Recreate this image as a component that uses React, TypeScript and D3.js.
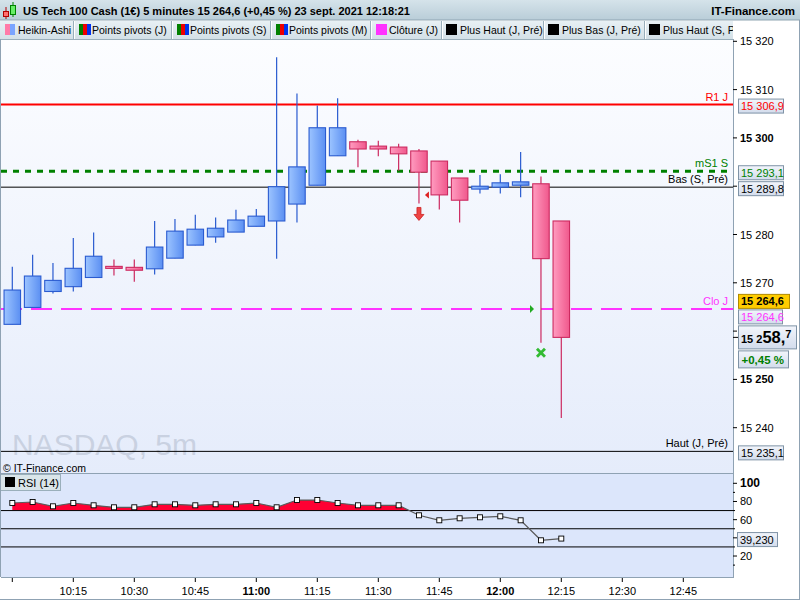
import * as d3 from "d3";
import React from "react";

// Heikin-Ashi candles, US Tech 100, 5 min, 23 sept. 2021
const times = [
  "10:00", "10:05", "10:10", "10:15", "10:20", "10:25", "10:30", "10:35", "10:40", "10:45",
  "10:50", "10:55", "11:00", "11:05", "11:10", "11:15", "11:20", "11:25", "11:30", "11:35",
  "11:40", "11:45", "11:50", "11:55", "12:00", "12:05", "12:10", "12:15",
];
const opens = [
  15261.4, 15264.9, 15268.2, 15269.2, 15271.1, 15273.4, 15273.2, 15272.9, 15275.1, 15277.8,
  15279.5, 15280.5, 15281.7, 15282.8, 15286.3, 15290.2, 15296.3, 15299.2, 15298.3, 15298.1,
  15297.3, 15295.2, 15291.7, 15289.4, 15289.8, 15290.2, 15290.5, 15282.8,
];
const highs = [
  15273.3, 15275.8, 15274.1, 15279.3, 15280.4, 15274.8, 15274.8, 15282.8, 15283.2, 15284.1,
  15283.5, 15285.1, 15285.3, 15316.7, 15309.2, 15306.7, 15308.2, 15299.6, 15299.4, 15298.8,
  15297.7, 15295.2, 15291.7, 15292.3, 15292.5, 15297.1, 15292.0, 15282.8,
];
const lows = [
  15261.4, 15264.9, 15267.8, 15268.2, 15271.1, 15271.5, 15270.2, 15271.7, 15275.1, 15277.8,
  15278.3, 15280.5, 15281.7, 15275.0, 15282.5, 15290.2, 15296.3, 15293.9, 15296.2, 15293.2,
  15286.4, 15285.2, 15282.5, 15288.5, 15288.5, 15287.7, 15257.6, 15242.0,
];
const closes = [
  15268.5, 15271.4, 15270.5, 15273.0, 15275.5, 15273.0, 15272.6, 15277.4, 15280.7, 15281.1,
  15281.3, 15283.0, 15283.8, 15289.9, 15294.0, 15302.1, 15302.1, 15297.7, 15297.7, 15296.7,
  15292.9, 15288.2, 15287.1, 15290.0, 15290.7, 15290.9, 15275.0, 15258.7,
];
const rsi = [
  78.3, 79.4, 74.7, 78.3, 75.8, 73.6, 73.6, 76.9, 76.9, 75.8,
  76.9, 76.9, 78.3, 73.6, 81.6, 81.6, 78.3, 75.8, 75.8, 75.8,
  64.8, 59.3, 61.5, 62.6, 63.7, 59.3, 37.3, 39.2,
];
const rsiLast = 39.23;

// reference lines
const levelNames = ["R1 J", "mS1 S", "Bas (S, Pré)", "Clo J", "Haut (J, Pré)"];
const levelValues = [15306.9, 15293.1, 15289.8, 15264.6, 15235.1];
const levelColors = ["#ff0000", "#008000", "#000000", "#ff33ff", "#000000"];

// 15290 and 15260 sit under the value boxes
const priceTicks = [15240, 15250, 15260, 15270, 15280, 15290, 15300, 15310, 15320];
const priceLabels = [15240, 15250, 15270, 15280, 15300, 15310, 15320];
const rsiLabels = [20, 60, 80, 100];
const rsiLevels = [30, 50, 70];
const timeTicks = ["10:00", "10:15", "10:30", "10:45", "11:00", "11:15", "11:30", "11:45", "12:00", "12:15", "12:30", "12:45"];

const legendItems = ["Heikin-Ashi", "Points pivots (J)", "Points pivots (S)", "Points pivots (M)", "Clôture (J)", "Plus Haut (J, Pré)", "Plus Bas (J, Pré)", "Plus Haut (S, Pré)"];
const legendStarts = [0, 74, 172, 271, 371, 442, 544, 645];

const FONT = "'Liberation Sans', Arial, sans-serif";

const toMin = (t: string) => {
  const [h, m] = t.split(":").map(Number);
  return (h - 10) * 60 + m;
};
const fmt = (v: number, d = 1) => {
  const s = v.toFixed(d);
  const [i, f] = s.split(".");
  const ii = i.replace(/\B(?=(\d{3})+(?!\d))/g, " ");
  return f ? `${ii},${f}` : ii;
};

function ValueBox({ x, yc, w, text, color = "#000", bold = false, fill = "url(#boxGrad)", stroke = "#7f93a6" }: any) {
  return (
    <g>
      <rect x={x} y={yc - 7} width={w} height={14} fill={fill} stroke={stroke} />
      <text x={x + 2.5} y={yc + 4} fontSize={11} fill={color} fontWeight={bold ? "bold" : "normal"} fontFamily={FONT}>
        {text}
      </text>
    </g>
  );
}

export default function App() {
  const W = 800;
  const H = 600;
  const plotL = 1;
  const plotR = 733;
  const mainTop = 40;
  const mainBot = 473;
  const rsiBot = 577;

  const x = d3.scaleLinear().domain([0, 165]).range([12.3, 683.3]);
  const y = d3.scaleLinear().domain([15240, 15320]).range([427.7, 41.3]);
  const yr = d3.scaleLinear().domain([0, 100]).range([574.2, 483.3]);

  const mins = times.map(toMin);
  const bw = 16.5;

  const rsiLine = d3.line<number>().x((_, i) => x(mins[i])).y((d) => yr(d));
  const rsiArea = d3.area<number>().x((_, i) => x(mins[i])).y0(yr(70)).y1((d) => yr(d));

  const last = closes[closes.length - 1];
  const cloJ = levelValues[3];
  const lastStr = fmt(last);

  return (
    <svg width={W} height={H} style={{ position: "absolute", left: 0, top: 0 }} fontFamily={FONT}>
      <defs>
        <linearGradient id="plotGrad" x1="0" y1="0" x2="0" y2="1">
          <stop offset="0" stopColor="#fcfdff" />
          <stop offset="1" stopColor="#e5ecfb" />
        </linearGradient>
        <linearGradient id="titleGrad" x1="0" y1="0" x2="0" y2="1">
          <stop offset="0" stopColor="#d5e3ea" />
          <stop offset="1" stopColor="#b9cdd8" />
        </linearGradient>
        <linearGradient id="legGrad" x1="0" y1="0" x2="0" y2="1">
          <stop offset="0" stopColor="#e8f0f4" />
          <stop offset="1" stopColor="#d3e0e7" />
        </linearGradient>
        <linearGradient id="boxGrad" x1="0" y1="0" x2="0" y2="1">
          <stop offset="0" stopColor="#f2f5fb" />
          <stop offset="1" stopColor="#d3dcec" />
        </linearGradient>
        <linearGradient id="upGrad" x1="0" y1="0" x2="1" y2="0">
          <stop offset="0" stopColor="#9cc4ff" />
          <stop offset="1" stopColor="#5b8ff2" />
        </linearGradient>
        <linearGradient id="downGrad" x1="0" y1="0" x2="1" y2="0">
          <stop offset="0" stopColor="#ff9cc0" />
          <stop offset="1" stopColor="#f0588c" />
        </linearGradient>
        <clipPath id="plotClip">
          <rect x={plotL} y={mainTop} width={plotR - plotL} height={mainBot - mainTop} />
        </clipPath>
        <clipPath id="rsiClip">
          <rect x={plotL} y={mainBot} width={plotR - plotL} height={yr(70) - mainBot} />
        </clipPath>
        <clipPath id="legClip">
          <rect x={0} y={20} width={plotR} height={20} />
        </clipPath>
      </defs>

      <rect x={0} y={0} width={W} height={H} fill="#ffffff" />

      {/* title bar */}
      <rect x={0} y={0} width={W} height={20} fill="url(#titleGrad)" />
      <line x1={0} x2={W} y1={20} y2={20} stroke="#8fa5b2" />
      <g>
        <line x1={6} x2={6} y1={7} y2={19} stroke="#b00000" />
        <rect x={3.5} y={11.5} width={5} height={5} fill="#ff7070" stroke="#b00000" />
        <line x1={13} x2={13} y1={2} y2={17} stroke="#008000" />
        <rect x={10.5} y={5.5} width={5} height={9} fill="#66ee66" stroke="#008000" />
      </g>
      <text x={23} y={15} fontSize={11} fontWeight="bold" fill="#000" textLength={387} lengthAdjust="spacingAndGlyphs">
        US Tech 100 Cash (1€) 5 minutes 15 264,6 (+0,45 %) 23 sept. 2021 12:18:21
      </text>
      <text x={795} y={15} fontSize={11.5} fontWeight="bold" fill="#000" textAnchor="end">
        IT-Finance.com
      </text>

      {/* legend bar */}
      <rect x={0} y={21} width={plotR} height={18} fill="url(#legGrad)" />
      <g clipPath="url(#legClip)">
        {legendItems.map((name, i) => {
          const sx = legendStarts[i];
          const ix = sx + 5;
          let icon;
          if (i === 0) {
            icon = (
              <g>
                <rect x={ix} y={24} width={5} height={11} fill="#ff7aa8" />
                <rect x={ix + 5} y={24} width={5} height={11} fill="#7aa4ff" />
              </g>
            );
          } else if (i <= 3) {
            icon = (
              <g>
                <rect x={ix} y={24} width={4} height={11} fill="#008000" />
                <rect x={ix + 4} y={24} width={4} height={11} fill="#ee0000" />
                <rect x={ix + 8} y={24} width={4} height={11} fill="#0033ee" />
              </g>
            );
          } else if (i === 4) {
            icon = <rect x={ix} y={24} width={11} height={11} fill="#ff33ff" />;
          } else {
            icon = <rect x={ix - 1} y={24} width={11} height={11} fill="#000" />;
          }
          return (
            <g key={name}>
              {i > 0 && <line x1={sx - 0.5} x2={sx - 0.5} y1={21} y2={39} stroke="#9aafbb" />}
              {i > 0 && <line x1={sx + 0.5} x2={sx + 0.5} y1={21} y2={39} stroke="#ffffff" />}
              {icon}
              <text x={ix + 13} y={34} fontSize={10.5} fill="#000">
                {name}
              </text>
            </g>
          );
        })}
      </g>
      <line x1={0} x2={plotR} y1={39.5} y2={39.5} stroke="#9aafbb" />

      {/* main plot */}
      <rect x={plotL} y={mainTop} width={plotR - plotL} height={mainBot - mainTop} fill="url(#plotGrad)" />
      <text x={12} y={455} fontSize={30} fill="#c9d1e1">
        NASDAQ, 5m
      </text>

      <g clipPath="url(#plotClip)">
        {levelValues.map((v, i) => {
          const dash = i === 1 ? "6 6" : i === 3 ? "21 9" : undefined;
          const sw = i === 0 ? 2 : i === 1 ? 3 : i === 3 ? 2 : 1;
          return (
            <g key={levelNames[i]}>
              <line x1={plotL} x2={plotR} y1={y(v)} y2={y(v)} stroke={levelColors[i]} strokeWidth={sw} strokeDasharray={dash} />
              <text x={plotR - 5} y={y(v) - 4} fontSize={11} textAnchor="end" fill={levelColors[i]}>
                {levelNames[i]}
              </text>
            </g>
          );
        })}

        {mins.map((m, i) => {
          const up = closes[i] >= opens[i];
          const cx = x(m);
          const top = y(Math.max(opens[i], closes[i]));
          const bot = y(Math.min(opens[i], closes[i]));
          const col = up ? "#2a5bd0" : "#cc2a60";
          return (
            <g key={times[i]}>
              <line x1={cx} x2={cx} y1={y(highs[i])} y2={y(lows[i])} stroke={col} strokeWidth={1.2} />
              <rect x={cx - bw / 2} y={top} width={bw} height={Math.max(2, bot - top)} fill={up ? "url(#upGrad)" : "url(#downGrad)"} stroke={col} strokeWidth={1.1} />
            </g>
          );
        })}

        {/* signals */}
        <path
          d={`M${x(toMin("11:40")) - 2},${y(15285.6)} h4 v7 h3 l-5,6 l-5,-6 h3 z`}
          fill="#ee4444"
          stroke="#cc2222"
          strokeWidth={0.8}
        />
        <path d={`M${x(102.2) - 3},${y(15288.2)} l4,-3.5 v7 z`} fill="#dd2222" />
        <path d={`M${x(127.3)},${y(cloJ) - 4} l4,4 l-4,4 z`} fill="#22aa22" />
        <g transform={`translate(${x(toMin("12:10"))},${y(15255.5)})`}>
          <path d="M-5,-3 L-3,-5 L0,-2 L3,-5 L5,-3 L2,0 L5,3 L3,5 L0,2 L-3,5 L-5,3 L-2,0 Z" fill="#33bb33" />
        </g>
      </g>

      {/* panel separator */}
      <line x1={plotL} x2={plotR} y1={mainBot + 0.5} y2={mainBot + 0.5} stroke="#8fa2b3" />
      <text x={3} y={472} fontSize={10.5} fill="#000">
        © IT-Finance.com
      </text>

      {/* RSI panel */}
      <rect x={plotL} y={mainBot + 1} width={plotR - plotL} height={rsiBot - mainBot - 1} fill="#dce6fb" />
      <path d={rsiArea(rsi) ?? ""} fill="#ff0033" clipPath="url(#rsiClip)" />
      {rsiLevels.map((l) => (
        <line key={l} x1={plotL} x2={plotR} y1={yr(l)} y2={yr(l)} stroke="#000" strokeWidth={1} />
      ))}
      <path d={rsiLine(rsi) ?? ""} fill="none" stroke="#5a5a5a" strokeWidth={1.2} />
      {rsi.map((v, i) => (
        <rect key={i} x={x(mins[i]) - 2.5} y={yr(v) - 2.5} width={5} height={5} fill="#fff" stroke="#000" strokeWidth={0.9} />
      ))}
      <rect x={0.5} y={474.5} width={60} height={16} fill="#dae5ea" stroke="#9aafbb" />
      <rect x={5} y={477} width={10} height={10} fill="#000" />
      <text x={18} y={487} fontSize={11} fill="#000">
        RSI (14)
      </text>
      <line x1={plotL} x2={plotR} y1={rsiBot + 0.5} y2={rsiBot + 0.5} stroke="#8fa2b3" />

      {/* frame */}
      <line x1={0.5} x2={0.5} y1={39} y2={rsiBot} stroke="#8fa2b3" />
      <line x1={plotR + 0.5} x2={plotR + 0.5} y1={39} y2={rsiBot + 1} stroke="#8fa2b3" />
      <line x1={0} x2={W} y1={H - 0.5} y2={H - 0.5} stroke="#8fa2b3" />
      <line x1={W - 0.5} x2={W - 0.5} y1={20} y2={H} stroke="#8fa2b3" />

      {/* price axis */}
      {priceTicks.map((t) => (
        <line key={t} x1={plotR} x2={plotR + 4} y1={y(t)} y2={y(t)} stroke="#000" />
      ))}
      {priceLabels.map((t) => (
        <text key={t} x={plotR + 7} y={y(t) + 4} fontSize={11} fontWeight={t % 50 === 0 ? "bold" : "normal"} fill="#000">
          {fmt(t, 0)}
        </text>
      ))}
      {levelValues.map((v, i) =>
        i === 3 ? null : (
          <ValueBox key={i} x={plotR + 5.5} yc={y(v) + 1.5} w={45} text={fmt(v)} color={levelColors[i]} />
        )
      )}
      <ValueBox x={plotR + 5.5} yc={y(cloJ) - 7.5} w={51} text={fmt(cloJ)} bold fill="#ffcc00" stroke="#b08a00" />
      <ValueBox x={plotR + 5.5} yc={y(cloJ) + 8} w={44} text={fmt(cloJ)} color="#ff33ff" />
      <g>
        <line x1={plotR} x2={plotR + 5} y1={y(last)} y2={y(last)} stroke="#000" />
        <rect x={plotR + 5.5} y={y(last) - 11.5} width={58} height={23} fill="url(#boxGrad)" stroke="#7f93a6" />
        <text x={plotR + 8} y={y(last) + 6} fill="#000" fontWeight="bold">
          <tspan fontSize={11}>{lastStr.slice(0, 4)}</tspan>
          <tspan fontSize={16.5}>{lastStr.slice(4, 7)}</tspan>
          <tspan fontSize={11} dy={-5}>
            {lastStr.slice(7)}
          </tspan>
        </text>
        <rect x={plotR + 5.5} y={y(last) + 13.5} width={50} height={17} fill="url(#boxGrad)" stroke="#7f93a6" />
        <text x={plotR + 8.5} y={y(last) + 26.5} fontSize={11.5} fontWeight="bold" fill="#008000">
          +0,45 %
        </text>
      </g>

      {/* RSI axis */}
      {d3.range(10, 101, 10).map((t) => (
        <line key={t} x1={plotR} x2={plotR + (t % 20 === 0 ? 4 : 2)} y1={yr(t)} y2={yr(t)} stroke="#000" />
      ))}
      {rsiLabels.map((t) => (
        <text key={t} x={plotR + 7} y={yr(t) + 4} fontSize={t === 100 ? 12 : 11} fontWeight={t === 100 ? "bold" : "normal"}>
          {t}
        </text>
      ))}
      <ValueBox x={plotR + 4.5} yc={yr(rsi[rsi.length - 1]) + 1} w={40} text={fmt(rsiLast, 3)} />

      {/* time axis */}
      {timeTicks.map((t) => (
        <g key={t}>
          <line x1={x(toMin(t))} x2={x(toMin(t))} y1={rsiBot + 1} y2={rsiBot + 5} stroke="#000" />
          {t !== "10:00" && (
            <text x={x(toMin(t))} y={595} fontSize={11} textAnchor="middle" fontWeight={t.endsWith(":00") ? "bold" : "normal"}>
              {t}
            </text>
          )}
        </g>
      ))}
    </svg>
  );
}
